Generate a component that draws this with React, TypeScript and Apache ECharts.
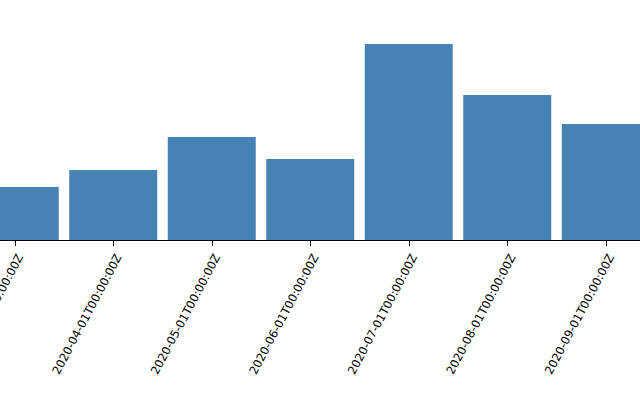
import React, { useEffect, useRef } from "react";
import * as echarts from "echarts";

const categories = [
  "2020-03-01T00:00:00Z",
  "2020-04-01T00:00:00Z",
  "2020-05-01T00:00:00Z",
  "2020-06-01T00:00:00Z",
  "2020-07-01T00:00:00Z",
  "2020-08-01T00:00:00Z",
  "2020-09-01T00:00:00Z",
];
const values = [53, 70, 103, 81, 196, 145, 116];

export default function App() {
  const ref = useRef<HTMLDivElement>(null);
  useEffect(() => {
    if (!ref.current) return;
    const chart = echarts.init(ref.current, undefined, { renderer: "svg" });
    chart.setOption({
      animation: false,
      grid: {
        left: -34.5,
        width: 689.5,
        top: 40,
        bottom: 160,
        containLabel: false,
        outerBoundsMode: "none",
      },
      xAxis: {
        type: "category",
        data: categories,
        axisLine: { show: true, lineStyle: { color: "#000", width: 1 } },
        axisTick: { show: true, alignWithLabel: true, length: 6, lineStyle: { color: "#000" } },
        axisLabel: {
          rotate: 62,
          interval: 0,
          margin: 12,
          verticalAlign: "top",
          fontFamily: "DejaVu Sans",
          fontSize: 11.6,
          color: "#000",
        },
      },
      yAxis: {
        type: "value",
        min: 0,
        max: 200,
        show: false,
        splitLine: { show: false },
      },
      series: [
        {
          type: "bar",
          data: values,
          barCategoryGap: "10.7%",
          itemStyle: { color: "#4682b4" },
        },
      ],
    });
    return () => chart.dispose();
  }, []);
  return <div ref={ref} style={{ position: "absolute", left: 0, top: 0, width: 640, height: 400 }} />;
}
